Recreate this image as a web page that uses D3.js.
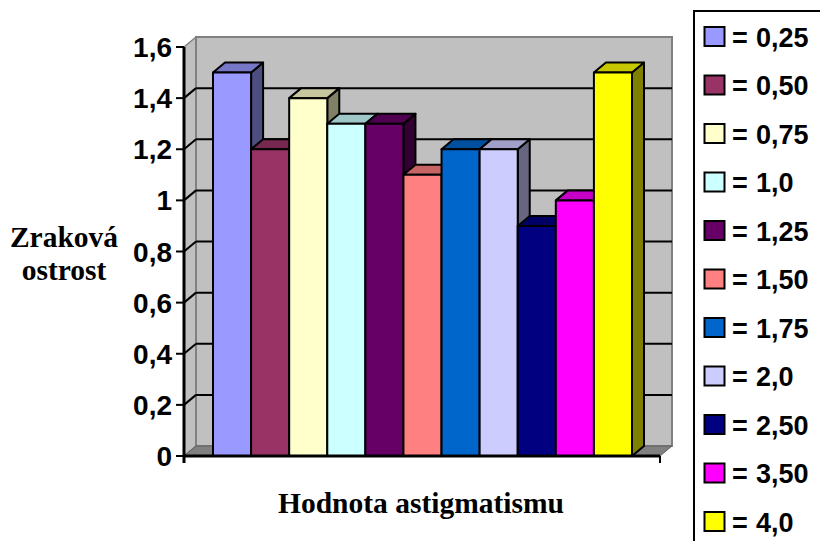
<!DOCTYPE html>
<html>
<head>
<meta charset="utf-8">
<script src="https://cdn.jsdelivr.net/npm/d3@7"></script>
<style>
  html, body { margin: 0; padding: 0; background: #fff; }
  svg { display: block; }
  .num { font-family: "Liberation Sans", Arial, sans-serif; font-weight: bold; }
  .ttl { font-family: "Liberation Serif", "Times New Roman", serif; font-weight: bold; }
</style>
</head>
<body>
<div id="chart"></div>
<script>
// data
const categories = ['0,25', '0,50', '0,75', '1,0', '1,25', '1,50', '1,75', '2,0', '2,50', '3,50', '4,0'];
const values = [1.5, 1.2, 1.4, 1.3, 1.3, 1.1, 1.2, 1.2, 0.9, 1.0, 1.5];
const colors = ['#9999FF', '#993366', '#FFFFCC', '#CCFFFF', '#660066', '#FF8080',
                '#0066CC', '#CCCCFF', '#000080', '#FF00FF', '#FFFF00'];
const yTicks = [0, 0.2, 0.4, 0.6, 0.8, 1, 1.2, 1.4, 1.6];
const yTitle = ['Zraková', 'ostrost'];
const xTitle = 'Hodnota astigmatismu';

const W = 820, H = 541;
const DX = 12, DY = -10;         // depth offset of the 3d box
const X0 = 184, X1 = 660;        // front floor edge
const y = d3.scaleLinear().domain([0, 1.6]).range([456, 47]);
const x = d3.scaleBand().domain(categories).range([213, 632]).padding(0);
const fmt = v => String(v).replace('.', ',');
const shade = (c, k) => { const r = d3.rgb(c); return d3.rgb(r.r * k, r.g * k, r.b * k).formatHex(); };

const svg = d3.select('#chart').append('svg').attr('width', W).attr('height', H);
const pts = a => a.map(p => p.join(',')).join(' ');

// walls
const yTop = y(1.6), yBot = y(0);
svg.append('polygon') // side wall
  .attr('points', pts([[X0, yTop], [X0 + DX, yTop + DY], [X0 + DX, yBot + DY], [X0, yBot]]))
  .attr('fill', '#C0C0C0').attr('stroke', '#808080').attr('stroke-width', 1.5);
svg.append('polygon') // back wall
  .attr('points', pts([[X0 + DX, yTop + DY], [X1 + DX, yTop + DY], [X1 + DX, yBot + DY], [X0 + DX, yBot + DY]]))
  .attr('fill', '#C0C0C0').attr('stroke', '#808080').attr('stroke-width', 2);
svg.append('polygon') // floor
  .attr('points', pts([[X0, yBot], [X0 + DX, yBot + DY], [X1 + DX, yBot + DY], [X1, yBot]]))
  .attr('fill', '#808080').attr('stroke', '#606060').attr('stroke-width', 1);

// gridlines
const grid = yTicks.filter(v => v > 0 && v < 1.6);
svg.append('g').selectAll('line').data(grid).join('line')
  .attr('x1', X0 + DX).attr('x2', X1 + DX)
  .attr('y1', d => y(d) + DY).attr('y2', d => y(d) + DY)
  .attr('stroke', '#000').attr('stroke-width', 2);
svg.append('g').selectAll('line').data(grid).join('line')
  .attr('x1', X0).attr('x2', X0 + DX)
  .attr('y1', d => y(d)).attr('y2', d => y(d) + DY)
  .attr('stroke', '#000').attr('stroke-width', 2);

// bars
const bw = x.bandwidth();
const bars = svg.append('g').attr('stroke', '#000').attr('stroke-width', 2).attr('stroke-linejoin', 'round');
categories.forEach((c, i) => {
  const l = x(c), r = l + bw, t = y(values[i]), b = y(0);
  const g = bars.append('g');
  g.append('polygon').attr('points', pts([[r, t], [r + DX, t + DY], [r + DX, b + DY], [r, b]]))
    .attr('fill', shade(colors[i], 0.5));
  g.append('polygon').attr('points', pts([[l, t], [l + DX, t + DY], [r + DX, t + DY], [r, t]]))
    .attr('fill', shade(colors[i], 0.78));
  g.append('rect').attr('x', l).attr('y', t).attr('width', bw).attr('height', b - t)
    .attr('fill', colors[i]);
});

// axes
svg.append('line').attr('x1', X0).attr('x2', X0).attr('y1', yTop).attr('y2', yBot + 7)
  .attr('stroke', '#000').attr('stroke-width', 3);
svg.append('line').attr('x1', X0).attr('x2', X1).attr('y1', yBot).attr('y2', yBot)
  .attr('stroke', '#000').attr('stroke-width', 3);
svg.append('line').attr('x1', X1).attr('x2', X1).attr('y1', yBot).attr('y2', yBot + 7)
  .attr('stroke', '#000').attr('stroke-width', 2);
const yt = svg.append('g').selectAll('g').data(yTicks).join('g');
yt.append('line').attr('x1', X0 - 8).attr('x2', X0).attr('y1', d => y(d)).attr('y2', d => y(d))
  .attr('stroke', '#000').attr('stroke-width', 2);
yt.append('text').attr('class', 'num').attr('text-anchor', 'end').attr('font-size', 28)
  .attr('x', 172).attr('y', d => y(d) + 10)
  .text(d => fmt(d));

// axis titles
svg.append('g').selectAll('text').data(yTitle).join('text').attr('class', 'ttl')
  .attr('text-anchor', 'middle').attr('font-size', 29.5)
  .attr('x', 64).attr('y', (d, i) => 247 + i * 33)
  .text(d => d);
svg.append('text').attr('class', 'ttl').attr('text-anchor', 'middle').attr('font-size', 29.5)
  .attr('x', 421).attr('y', 513).text(xTitle);

// legend
svg.append('rect').attr('x', 694).attr('y', 11).attr('width', 200).attr('height', 600)
  .attr('fill', '#fff').attr('stroke', '#000').attr('stroke-width', 2);
const lg = svg.append('g').selectAll('g').data(categories).join('g')
  .attr('transform', (d, i) => `translate(0,${46.5 + i * 48.5})`);
lg.append('rect').attr('x', 704.5).attr('y', -19.5).attr('width', 20).attr('height', 19)
  .attr('fill', (d, i) => colors[i]).attr('stroke', '#000').attr('stroke-width', 2);
lg.append('text').attr('class', 'num').attr('font-size', 27)
  .attr('x', 732).text('=');
lg.append('text').attr('class', 'num').attr('font-size', 27)
  .attr('x', 756).text(d => d);
</script>
</body>
</html>
